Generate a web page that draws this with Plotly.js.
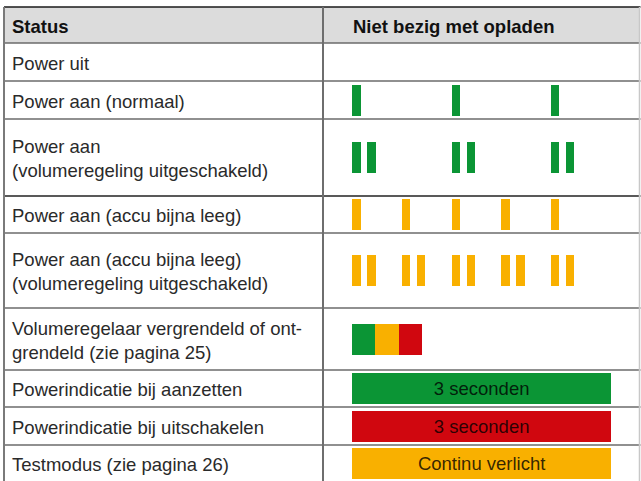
<!DOCTYPE html>
<html>
<head>
<meta charset="utf-8">
<script src="https://cdn.plot.ly/plotly-3.0.1.min.js"></script>
<style>html,body{margin:0;padding:0;background:#fff}#chart{width:641px;height:481px}</style>
</head>
<body>
<div id="chart"></div>
<script>
// ---------- DATA ----------
const headers = ['Status', 'Niet bezig met opladen'];
const statuses = [
  'Power uit',
  'Power aan (normaal)',
  'Power aan<br>(volumeregeling uitgeschakeld)',
  'Power aan (accu bijna leeg)',
  'Power aan (accu bijna leeg)<br>(volumeregeling uitgeschakeld)',
  'Volumeregelaar vergrendeld of ont-<br>grendeld (zie pagina 25)',
  'Powerindicatie bij aanzetten',
  'Powerindicatie bij uitschakelen',
  'Testmodus (zie pagina 26)'
];
// indicator type per status row
const indicatorKind = ['none', 'blink', 'blink', 'blink', 'blink', 'sequence', 'solid', 'solid', 'solid'];
// blinking rows
const blinkColor     = [null, 'green', 'green', 'amber', 'amber'];
const flashesPerBlink = [0, 1, 2, 1, 2];
const blinkCount     = [0, 3, 3, 5, 5];
const blinkInterval  = [0, 2, 2, 1, 1];   // relative time units between blinks
// colour sequence row
const sequenceColors = ['green', 'amber', 'red'];
// solid rows
const solidColors = ['green', 'red', 'amber'];
const solidText   = ['3 seconden', '3 seconden', 'Continu verlicht'];

// ---------- LAYOUT CONSTANTS ----------
const colours = {green: '#0b9535', amber: '#f9b000', red: '#d0070f'};
const tableTop = 7, headerBottom = 43;
const rowHeights = [38, 38, 77, 37, 75, 62, 37, 38, 36];
const leftX = 4, divX = 323, rightX = 639.5;
const labelX = 10, headX2 = 351, indX0 = 352.3;
const unitPx = 49.65, pulseW = 8.3, pulseGap = 15, barH = 31;
const seqW = 23.1, solidW = 258.7;
const font = 'Liberation Sans, Arial, sans-serif';
const fs = 18.5;

// row edges
const edges = [headerBottom];
rowHeights.forEach(h => edges.push(edges[edges.length - 1] + h));
const centers = rowHeights.map((h, i) => edges[i] + h / 2);

// ---------- BARS ----------
const bars = {green: {y: [], base: [], x: [], text: []}, amber: {y: [], base: [], x: [], text: []}, red: {y: [], base: [], x: [], text: []}};
function add(c, y, b, w, t) { const o = bars[c]; o.y.push(y); o.base.push(b); o.x.push(w); o.text.push(t || ''); }
let solidIdx = 0;
indicatorKind.forEach((k, r) => {
  if (k === 'blink') {
    for (let i = 0; i < blinkCount[r]; i++) {
      for (let f = 0; f < flashesPerBlink[r]; f++) {
        add(blinkColor[r], centers[r], indX0 + i * blinkInterval[r] * unitPx + f * pulseGap, pulseW);
      }
    }
  } else if (k === 'sequence') {
    sequenceColors.forEach((c, i) => add(c, centers[r], indX0 + i * seqW, seqW));
  } else if (k === 'solid') {
    add(solidColors[solidIdx], centers[r], indX0, solidW, solidText[solidIdx]);
    solidIdx++;
  }
});
const traces = Object.keys(bars).map(c => ({
  type: 'bar', orientation: 'h',
  y: bars[c].y, base: bars[c].base, x: bars[c].x,
  width: bars[c].y.map(() => barH),
  text: bars[c].text, textposition: 'inside', insidetextanchor: 'middle',
  textangle: 0, constraintext: 'none',
  insidetextfont: {family: font, size: fs, color: 'rgba(0,0,0,0.8)'},
  marker: {color: colours[c], line: {width: 0}},
  hoverinfo: 'skip', showlegend: false, cliponaxis: false
}));

// ---------- SHAPES ----------
const shapes = [];
shapes.push({type: 'rect', xref: 'x', yref: 'y', x0: leftX, x1: rightX, y0: tableTop, y1: headerBottom, fillcolor: '#dcdcdc', line: {width: 0}, layer: 'below'});
edges.slice(0, edges.length - 1).forEach((y, i) => {
  const dark = (i === 3);
  shapes.push({type: 'line', xref: 'x', yref: 'y', x0: leftX, x1: rightX + 1, y0: y, y1: y,
    line: {color: dark ? '#222' : '#6b6b6b', width: 1.4}, layer: 'below'});
});
shapes.push({type: 'line', xref: 'x', yref: 'y', x0: leftX, x1: rightX + 1, y0: tableTop, y1: tableTop, line: {color: '#1a1a1a', width: 1.6}, layer: 'below'});
shapes.push({type: 'line', xref: 'x', yref: 'y', x0: leftX, x1: leftX, y0: tableTop, y1: 481, line: {color: '#7a7a7a', width: 2}, layer: 'below'});
shapes.push({type: 'line', xref: 'x', yref: 'y', x0: divX, x1: divX, y0: tableTop, y1: 481, line: {color: '#6e6e6e', width: 2}, layer: 'below'});
shapes.push({type: 'line', xref: 'x', yref: 'y', x0: rightX, x1: rightX, y0: tableTop, y1: 481, line: {color: '#c8c8c8', width: 1.5}, layer: 'below'});

// ---------- ANNOTATIONS ----------
const annotations = [];
annotations.push({x: labelX, y: (tableTop + headerBottom) / 2 + 1, xref: 'x', yref: 'y', xanchor: 'left', yanchor: 'middle', text: '<b>' + headers[0] + '</b>', showarrow: false, font: {family: font, size: fs, color: '#111'}});
annotations.push({x: headX2, y: (tableTop + headerBottom) / 2 + 1, xref: 'x', yref: 'y', xanchor: 'left', yanchor: 'middle', text: '<b>' + headers[1] + '</b>', showarrow: false, font: {family: font, size: fs, color: '#111'}});
statuses.forEach((s, i) => {
  annotations.push({x: labelX, y: centers[i] + 1, xref: 'x', yref: 'y', xanchor: 'left', yanchor: 'middle', align: 'left',
    text: s, showarrow: false, font: {family: font, size: fs, color: '#2a2a2a'}});
});

const layout = {
  width: 641, height: 481, margin: {l: 0, r: 0, t: 0, b: 0},
  paper_bgcolor: '#fff', plot_bgcolor: '#fff',
  xaxis: {range: [0, 641], visible: false, fixedrange: true},
  yaxis: {range: [481, 0], visible: false, fixedrange: true},
  barmode: 'overlay', bargap: 0,
  shapes: shapes, annotations: annotations, showlegend: false
};
Plotly.newPlot('chart', traces, layout, {displayModeBar: false, staticPlot: true});
</script>
</body>
</html>
